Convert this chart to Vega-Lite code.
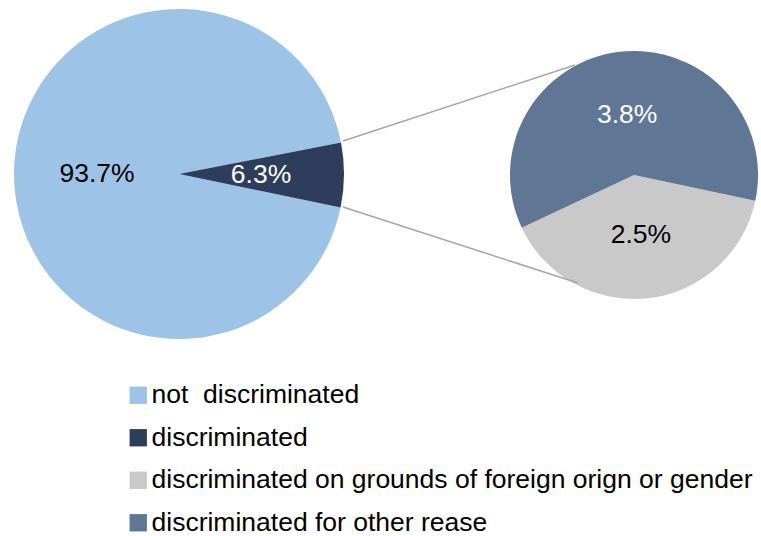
{
  "$schema": "https://vega.github.io/schema/vega-lite/v6.json",
  "width": 761,
  "height": 536,
  "padding": 0,
  "autosize": {"type": "none"},
  "background": "white",
  "data": {
    "values": [
      {"pie": "main", "category": "not \u00a0discriminated", "share": 0.937},
      {"pie": "main", "category": "discriminated", "share": 0.063},
      {"pie": "detail", "category": "discriminated on grounds of foreign orign or gender", "share": 0.025},
      {"pie": "detail", "category": "discriminated for other rease", "share": 0.038}
    ]
  },
  "layer": [
    {
      "transform": [{"filter": "datum.pie === 'main'"}],
      "encoding": {
        "x": {"datum": 179, "type": "quantitative", "axis": null, "scale": {"domain": [0, 761], "nice": false, "zero": false}},
        "y": {"datum": 174, "type": "quantitative", "axis": null, "scale": {"domain": [0, 536], "nice": false, "zero": false, "reverse": true}},
        "theta": {"field": "share", "type": "quantitative", "stack": true, "scale": {"range": [1.379, 7.662], "nice": false}},
        "order": {"field": "share", "sort": "ascending"},
        "detail": {"field": "category"}
      },
      "layer": [
        {
          "mark": {"type": "arc", "outerRadius": 165, "stroke": null},
          "encoding": {
            "color": {
              "field": "category",
              "type": "nominal",
              "scale": {
                "domain": ["not \u00a0discriminated", "discriminated", "discriminated on grounds of foreign orign or gender", "discriminated for other rease"],
                "range": ["#9DC3E6", "#2F3D5C", "#C9C9C9", "#5F7694"]
              },
              "legend": {
                "title": null,
                "orient": "none",
                "legendX": 125,
                "legendY": 382,
                "direction": "vertical",
                "symbolType": "square",
                "symbolSize": 300,
                "symbolStrokeWidth": 0,
                "symbolOpacity": 1,
                "labelFont": "Liberation Sans",
                "labelFontSize": 26.5,
                "labelColor": "#000000",
                "labelLimit": 1000,
                "labelOffset": 0,
                "rowPadding": 15.5,
                "padding": 0
              }
            }
          }
        },
        {
          "mark": {"type": "text", "radius": 82, "font": "Liberation Sans", "fontSize": 26.5, "align": "center", "baseline": "middle"},
          "encoding": {
            "text": {"field": "share", "type": "quantitative", "format": ".1%"},
            "color": {"condition": {"test": "datum.category === 'discriminated'", "value": "#FFFFFF"}, "value": "#000000"}
          }
        }
      ]
    },
    {
      "transform": [{"filter": "datum.pie === 'detail'"}],
      "encoding": {
        "x": {"datum": 634, "type": "quantitative"},
        "y": {"datum": 175, "type": "quantitative"},
        "theta": {"field": "share", "type": "quantitative", "stack": true, "scale": {"range": [1.78, 8.063], "nice": false}},
        "order": {"field": "share", "sort": "ascending"},
        "detail": {"field": "category"}
      },
      "layer": [
        {
          "mark": {"type": "arc", "outerRadius": 124, "stroke": null},
          "encoding": {
            "color": {"field": "category", "type": "nominal"}
          }
        },
        {
          "mark": {"type": "text", "radius": 60, "font": "Liberation Sans", "fontSize": 26.5, "align": "center", "baseline": "middle"},
          "encoding": {
            "text": {"field": "share", "type": "quantitative", "format": ".1%"},
            "color": {"condition": {"test": "datum.category === 'discriminated for other rease'", "value": "#FFFFFF"}, "value": "#000000"}
          }
        }
      ]
    },
    {
      "data": {"values": [{}]},
      "mark": {"type": "rule", "color": "#A6A6A6", "strokeWidth": 1.5},
      "encoding": {
        "x": {"datum": 343, "type": "quantitative"},
        "y": {"datum": 141, "type": "quantitative"},
        "x2": {"datum": 575},
        "y2": {"datum": 65}
      }
    },
    {
      "data": {"values": [{}]},
      "mark": {"type": "rule", "color": "#A6A6A6", "strokeWidth": 1.5},
      "encoding": {
        "x": {"datum": 343, "type": "quantitative"},
        "y": {"datum": 207, "type": "quantitative"},
        "x2": {"datum": 578},
        "y2": {"datum": 283}
      }
    }
  ],
  "resolve": {"scale": {"theta": "independent"}},
  "config": {
    "view": {"stroke": null},
    "axis": {"disable": true},
    "font": "Liberation Sans"
  }
}
